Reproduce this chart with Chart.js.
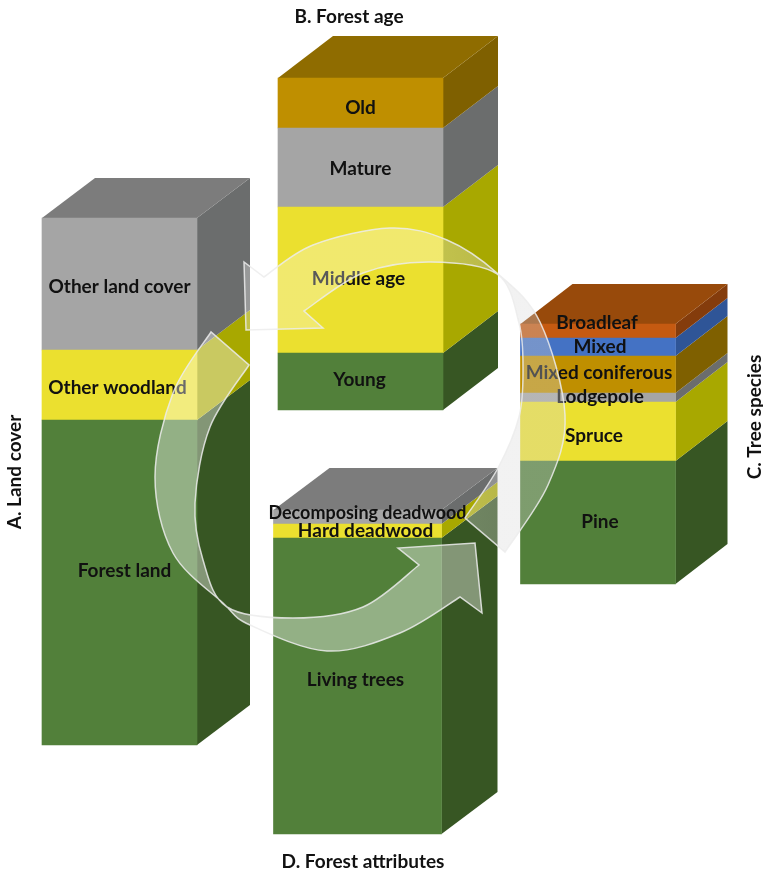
<!DOCTYPE html>
<html>
<head>
<meta charset="utf-8">
<title>Forest stacks</title>
<script src="https://cdn.jsdelivr.net/npm/chart.js@4/dist/chart.umd.js"></script>
<style>
  html, body { margin: 0; padding: 0; background: #fff; }
  canvas { display: block; }
</style>
</head>
<body>
<canvas id="chart" width="763" height="873"></canvas>
<script>
// Segment sizes, bottom to top, in axis units
const landCoverNames = ['Forest land', 'Other woodland', 'Other land cover'];
const landCoverValues = [325, 70, 132];

const forestAgeNames = ['Young', 'Middle age', 'Mature', 'Old'];
const forestAgeValues = [57, 146, 79, 50];

const treeSpeciesNames = ['Pine', 'Spruce', 'Lodgepole', 'Mixed coniferous', 'Mixed', 'Broadleaf'];
const treeSpeciesValues = [123, 59, 9, 37, 18, 14];

const attributeNames = ['Living trees', 'Hard deadwood', 'Decomposing deadwood'];
const attributeValues = [296, 14, 14];

// front / side colours
const palette = {
  green: ['#52803a', '#375623'],
  yellow: ['#ebe02f', '#a8a800'],
  gray: ['#a5a5a5', '#6b6d6d'],
  gold: ['#bf8f00', '#7f6000'],
  orange: ['#c55a11', '#843c0c'],
  blue: ['#4472c4', '#2f5597']
};

// layout of the four blocks; labelShift is [dx, dy] from the segment centre
const columns = [
  {
    names: landCoverNames, values: landCoverValues,
    colors: ['green', 'yellow', 'gray'], topColor: '#7c7c7c',
    x: 119.5, base: 128, width: 155, depth: [53, 40],
    labelShift: [[5, -12], [-2, 3], [0, 3]]
  },
  {
    names: forestAgeNames, values: forestAgeValues,
    colors: ['green', 'yellow', 'gray', 'gold'], topColor: '#8f6c00',
    x: 360.5, base: 463, width: 165, depth: [55, 42],
    labelShift: [[-1, -2], [-2, -1], [0, 1], [0, 5]]
  },
  {
    names: treeSpeciesNames, values: treeSpeciesValues,
    colors: ['green', 'yellow', 'gray', 'gold', 'blue', 'orange'], topColor: '#984a0b',
    x: 598, base: 289, width: 155, depth: [52, 40],
    labelShift: [[2, -1], [-4, 4], [2, -1], [1, -2], [2, 0], [-1, -8]]
  },
  {
    names: attributeNames, values: attributeValues,
    colors: ['green', 'yellow', 'gray'], topColor: '#7c7c7c',
    x: 357.5, base: 39, width: 168, depth: [56, 42],
    labelShift: [[-2, -6], [8, 0], [10, -4]]
  }
];

const blockTitles = [
  { text: 'A. Land cover', x: 15, y: 472, rotate: true },
  { text: 'B. Forest age', x: 349, y: 17 },
  { text: 'C. Tree species', x: 755, y: 417, rotate: true },
  { text: 'D. Forest attributes', x: 363, y: 862 }
];

// outlines of the two round arrows
const upperArrowHead = [[246, 330], [244, 262], [264, 277]];
const upperArrowOuter = [[264, 277], [313, 245], [390, 228], [447, 240], [497, 273], [540, 322], [565, 415], [548, 485], [505, 552]];
const upperArrowInner = [[465, 518], [498, 468], [519, 417], [523, 370], [519, 323], [497, 274], [430, 262], [363, 273], [304, 311]];
const lowerArrowOuter = [[211, 332], [173, 393], [155, 477], [173, 553], [223, 603], [250, 625], [327, 651], [400, 633], [460, 597]];
const lowerArrowHead = [[482, 613], [475, 543], [398, 548], [419, 565]];
const lowerArrowInner = [[419, 565], [363, 607], [293, 618], [227, 607], [203, 560], [195, 503], [210, 427], [249, 365]];

// one floating bar per segment, all in the same chart
const datasets = [];
columns.forEach((col, c) => {
  let level = col.base;
  col.values.forEach((v, s) => {
    datasets.push({
      label: col.names[s],
      data: [{ x: col.x, y: [level, level + v] }],
      backgroundColor: palette[col.colors[s]][0],
      barThickness: col.width,
      grouped: false,
      column: c,
      segment: s
    });
    level += v;
  });
});

function polygon(ctx, pts, color) {
  ctx.beginPath();
  pts.forEach((p, i) => (i ? ctx.lineTo(p[0], p[1]) : ctx.moveTo(p[0], p[1])));
  ctx.closePath();
  ctx.fillStyle = color;
  ctx.fill();
}

// smooth line through points (Catmull-Rom turned into beziers)
function curveThrough(ctx, pts) {
  for (let i = 0; i < pts.length - 1; i++) {
    const p0 = pts[i - 1] || pts[i];
    const p1 = pts[i];
    const p2 = pts[i + 1];
    const p3 = pts[i + 2] || p2;
    ctx.bezierCurveTo(
      p1[0] + (p2[0] - p0[0]) / 6, p1[1] + (p2[1] - p0[1]) / 6,
      p2[0] - (p3[0] - p1[0]) / 6, p2[1] - (p3[1] - p1[1]) / 6,
      p2[0], p2[1]
    );
  }
}

const blockFaces = {
  id: 'blockFaces',
  beforeDatasetsDraw(chart) {
    const ctx = chart.ctx;
    chart.data.datasets.forEach((ds, i) => {
      const bar = chart.getDatasetMeta(i).data[0];
      const col = columns[ds.column];
      const [dx, dy] = col.depth;
      const right = bar.x + bar.width / 2;
      const left = bar.x - bar.width / 2;
      const top = bar.y;
      const bottom = bar.base;
      polygon(ctx, [[right, bottom], [right + dx, bottom - dy], [right + dx, top - dy], [right, top]], palette[col.colors[ds.segment]][1]);
      if (ds.segment === col.values.length - 1) {
        polygon(ctx, [[left, top], [left + dx, top - dy], [right + dx, top - dy], [right, top]], col.topColor);
      }
    });
  }
};

const textAndArrows = {
  id: 'textAndArrows',
  afterDatasetsDraw(chart) {
    const ctx = chart.ctx;
    ctx.save();
    ctx.font = 'bold 19px Lato';
    ctx.fillStyle = '#111';
    ctx.textAlign = 'center';
    ctx.textBaseline = 'middle';
    chart.data.datasets.forEach((ds, i) => {
      const bar = chart.getDatasetMeta(i).data[0];
      const shift = columns[ds.column].labelShift[ds.segment];
      // the long deadwood label is squeezed a little in the original
      ctx.fillText(ds.label, bar.x + shift[0], (bar.y + bar.base) / 2 + shift[1], 198);
    });

    // upper arrow, goes grey towards its tail
    const fade = ctx.createLinearGradient(246, 0, 565, 0);
    fade.addColorStop(0, 'rgba(255,255,255,0.3)');
    fade.addColorStop(0.6, 'rgba(255,255,255,0.3)');
    fade.addColorStop(0.8, 'rgba(215,215,215,0.33)');
    fade.addColorStop(1, 'rgba(215,215,215,0.33)');
    ctx.beginPath();
    ctx.moveTo(upperArrowHead[0][0], upperArrowHead[0][1]);
    ctx.lineTo(upperArrowHead[1][0], upperArrowHead[1][1]);
    ctx.lineTo(upperArrowHead[2][0], upperArrowHead[2][1]);
    curveThrough(ctx, upperArrowOuter);
    ctx.lineTo(upperArrowInner[0][0], upperArrowInner[0][1]);
    curveThrough(ctx, upperArrowInner);
    ctx.lineTo(323, 328);
    ctx.closePath();
    ctx.fillStyle = fade;
    ctx.fill();
    ctx.strokeStyle = 'rgba(236,236,236,0.85)';
    ctx.lineWidth = 1.5;
    ctx.stroke();

    // lower arrow
    ctx.beginPath();
    ctx.moveTo(lowerArrowOuter[0][0], lowerArrowOuter[0][1]);
    curveThrough(ctx, lowerArrowOuter);
    lowerArrowHead.forEach((p) => ctx.lineTo(p[0], p[1]));
    curveThrough(ctx, lowerArrowInner);
    ctx.closePath();
    ctx.fillStyle = 'rgba(255,255,255,0.38)';
    ctx.fill();
    ctx.stroke();

    ctx.font = 'bold 19px Lato';
    ctx.fillStyle = '#111';
    blockTitles.forEach((t) => {
      ctx.save();
      ctx.translate(t.x, t.y);
      if (t.rotate) ctx.rotate(-Math.PI / 2);
      ctx.fillText(t.text, 0, 0);
      ctx.restore();
    });
    ctx.restore();
  }
};

new Chart(document.getElementById('chart').getContext('2d'), {
  type: 'bar',
  data: { datasets },
  plugins: [blockFaces, textAndArrows],
  options: {
    responsive: false,
    animation: false,
    layout: { padding: 0 },
    plugins: {
      legend: { display: false },
      tooltip: { enabled: false }
    },
    scales: {
      x: { type: 'linear', min: 0, max: 763, offset: false, display: false },
      y: { min: 0, max: 873, display: false }
    }
  }
});
</script>
</body>
</html>
